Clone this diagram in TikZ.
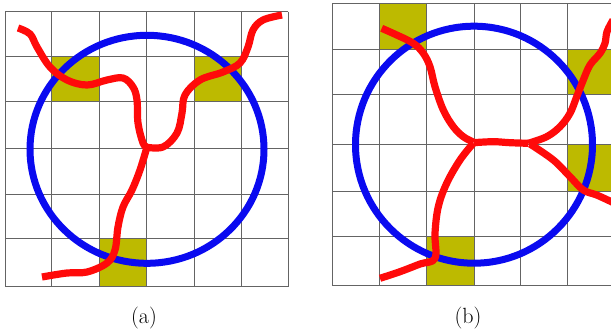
\documentclass[tikz,border=0pt]{standalone}
\usetikzlibrary{positioning}
\definecolor{wirec}{HTML}{FF0A0A}
\definecolor{ringc}{HTML}{0A0AF0}
\definecolor{cellc}{HTML}{BDBA00}
\definecolor{gridc}{HTML}{646464}

\begin{document}
\begin{tikzpicture}[
  x=1pt, y=-1pt,
  gridl/.style={draw=gridc, line width=1pt},
  cell/.style={fill=cellc},
  ring/.style={draw=ringc, line width=7pt},
  wire/.style={draw=wirec, line width=7.2pt, line join=round},
  lbl/.style={font=\fontsize{22}{26}\selectfont, inner sep=0pt},
]
\useasboundingbox (0,0) rectangle (611,331);

% ── panel (a) ────────────────────────────────────────────────────────────────
\fill[cell] (51.7,56.7) rectangle (99,101.5);
\fill[cell] (194,56.7) rectangle (241.7,101.5);
\fill[cell] (99,238.5) rectangle (146.7,287);

\foreach \x in {5,51.7,99,146.7,194,241.7,288}
  \draw[gridl] (\x,11.7) -- (\x,287);
\foreach \y in {11.7,56.7,101.5,149,195,238.5,287}
  \draw[gridl] (5,\y) -- (288,\y);

\draw[ring] (147,149.3) ellipse [x radius=117, y radius=114];

% three arms from the junction
\draw[wire] plot[smooth, tension=0.6] coordinates {(18,28) (30,34) (37,47)
  (50,67) (67,80) (87,85) (107,80) (123,78) (133,87) (137,100) (138,123)
  (143,143) (147,147)};
\draw[wire] plot[smooth, tension=0.6] coordinates {(145,147) (163,147)
  (177,133) (182,113) (185,95) (200,80) (223,72) (240,63) (248,47) (253,30)
  (263,20) (282,15)};
\draw[wire] plot[smooth, tension=0.6] coordinates {(147,147) (140,170)
  (132,190) (123,207) (118,227) (115,250) (107,263) (87,272) (67,273)
  (42,277)};

\node[lbl] (capa) at (144,318) {(a)};

% ── panel (b) ────────────────────────────────────────────────────────────────
\fill[cell] (379.3,3.3) rectangle (426.7,49.3);
\fill[cell] (567.3,49.3) rectangle (614,94.3);
\fill[cell] (567.3,144.3) rectangle (614,191.7);
\fill[cell] (426.7,236.7) rectangle (474,285.7);

\foreach \x in {332.7,379.3,426.7,474,520,567.3,614}
  \draw[gridl] (\x,3.3) -- (\x,285.7);
\foreach \y in {3.3,49.3,94.3,144.3,191.7,236.7,285.7}
  \draw[gridl] (332.7,\y) -- (614,\y);

\draw[ring] (474,144.7) circle [radius=118.5];

% four arms and the bridge between the two junctions
\draw[wire] plot[smooth, tension=0.6] coordinates {(381.7,28.3) (396.7,35)
  (413.3,43.3) (423.3,53.3) (430,66.7) (435,86.7) (443.3,110) (453.3,126.7)
  (463.3,136.7) (473.3,142)};
\draw[wire] plot[smooth, tension=0.6] coordinates {(473.3,142.7)
  (493.3,141.7) (510,142.7) (528.3,143.3)};
\draw[wire] plot[smooth, tension=0.6] coordinates {(528.3,143.3)
  (546.7,136.7) (560,126.7) (570,113.3) (576.7,96.7) (583.3,80) (590,65)
  (600,53.3) (605,43.3) (607,31.7) (613,20)};
\draw[wire] plot[smooth, tension=0.6] coordinates {(530,144) (553.3,160)
  (570,176.7) (583.3,190) (596.7,195) (613,202.5)};
\draw[wire] plot[smooth, tension=0.6] coordinates {(473.3,143.3) (460,160)
  (446.7,183.3) (438.3,206.7) (435,233.3) (435,258.3) (420,264) (400,271.7)
  (380,278.3)};

\node[lbl] (capb) at (468,318) {(b)};

\end{tikzpicture}
\end{document}
